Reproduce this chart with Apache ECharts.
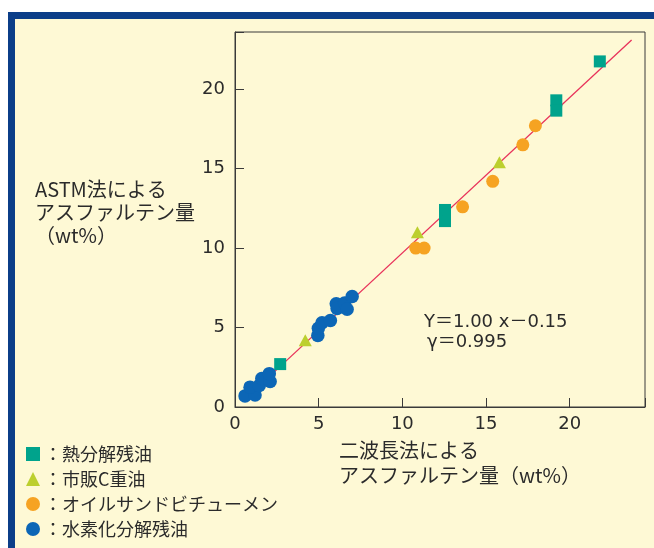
<!DOCTYPE html>
<html>
<head>
<meta charset="utf-8">
<script src="https://cdn.jsdelivr.net/npm/echarts@6/dist/echarts.min.js"></script>
<style>
html,body{margin:0;padding:0;background:#fff;}
#c{width:654px;height:548px;}
</style>
</head>
<body>
<div id="c"></div>
<script>
// ---- data ----
const seriesNames = ['熱分解残油', '市販C重油', 'オイルサンドビチューメン', '水素化分解残油'];
const pyrolysis = [[2.7, 2.7], [12.55, 12.4], [12.55, 11.7], [19.2, 19.3], [19.2, 18.65], [21.8, 21.75]];
const fuelC = [[4.2, 4.2], [10.9, 11.0], [15.8, 15.4]];
const bitumen = [[10.8, 10.0], [11.3, 10.0], [13.6, 12.6], [15.4, 14.2], [17.2, 16.5], [17.95, 17.7]];
const hydrocracked = [[0.6, 0.7], [1.2, 0.75], [0.9, 1.25], [1.45, 1.35], [1.6, 1.8], [2.1, 1.6], [2.05, 2.1],
  [4.95, 4.5], [4.98, 4.95], [5.2, 5.3], [5.7, 5.45], [6.05, 6.5], [6.1, 6.2], [6.55, 6.55], [6.7, 6.15], [7.0, 6.95]];
const fitLine = [[0.5, 0.4], [23.7, 23.1]];
const xTicks = [0, 5, 10, 15, 20];
const yTicks = [0, 5, 10, 15, 20];
const equationText = 'Y＝1.00 x－0.15';
const corrText = 'γ＝0.995';

const colors = ['#00A38C', '#BCCF2E', '#F6A322', '#0C66B6'];
const icons = ['rect', 'triangle', 'circle', 'circle'];
const txt = '#2b2b2b';
const numFont = "'DejaVu Sans', 'Noto Sans CJK JP', sans-serif";
const jpFont = "'Noto Sans CJK JP', 'Noto Sans', sans-serif";

const chart = echarts.init(document.getElementById('c'), null, {renderer: 'canvas'});
const datasets = [pyrolysis, fuelC, bitumen, hydrocracked];
const sizes = [[12, 12], [13, 12], 13, 13.5];

const option = {
  backgroundColor: '#ffffff',
  animation: false,
  graphic: [
    {type: 'rect', z: -10, silent: true, shape: {x: 8, y: 12, width: 700, height: 600}, style: {fill: '#0B3E88'}},
    {type: 'rect', z: -9, silent: true, shape: {x: 15, y: 19, width: 700, height: 600}, style: {fill: '#FEF9D5'}},
    {type: 'text', left: 35, top: 178, z: 5, style: {text: 'ASTM法による\nアスファルテン量\n（wt%）', fill: txt, font: "20px " + jpFont, lineHeight: 23}},
    {type: 'text', left: 339, top: 438, z: 5, style: {text: '二波長法による\nアスファルテン量（wt%）', fill: txt, font: "20px " + jpFont, lineHeight: 25}},
    {type: 'text', left: 424, top: 313, z: 5, style: {text: equationText, fill: txt, font: "18px " + numFont}},
    {type: 'text', left: 427, top: 333, z: 5, style: {text: corrText, fill: txt, font: "18px " + numFont}}
  ],
  grid: {left: 235, top: 32, right: 9, bottom: 141, show: true, borderColor: '#3a3a3a', borderWidth: 1, backgroundColor: 'transparent'},
  xAxis: {
    type: 'value', min: 0, max: 24.5, interval: 5,
    axisLine: {show: true, lineStyle: {color: '#3a3a3a', width: 1}},
    axisTick: {show: true, inside: true, length: 9, lineStyle: {color: '#3a3a3a'}},
    splitLine: {show: false},
    axisLabel: {color: txt, fontSize: 18, fontFamily: numFont, margin: 8,
      formatter: v => xTicks.indexOf(v) >= 0 ? String(v) : ''}
  },
  yAxis: {
    type: 'value', min: 0, max: 23.6, interval: 5,
    axisLine: {show: true, lineStyle: {color: '#3a3a3a', width: 1}},
    axisTick: {show: true, inside: true, length: 9, lineStyle: {color: '#3a3a3a'}},
    splitLine: {show: false},
    axisLabel: {color: txt, fontSize: 18, fontFamily: numFont, margin: 10,
      formatter: v => yTicks.indexOf(v) >= 0 ? String(v) : ''}
  },
  legend: {
    orient: 'vertical', left: 26, top: 445, width: 400, height: 120, padding: 0, itemGap: 7, itemWidth: 14, itemHeight: 14,
    selectedMode: false,
    data: seriesNames.map((n, i) => ({name: n, icon: icons[i]})),
    formatter: n => '：' + n,
    textStyle: {color: txt, fontSize: 18, fontFamily: jpFont, padding: [0, 0, 0, -1]}
  },
  series: [
    {type: 'line', name: 'fit', data: fitLine, symbol: 'none', z: 1, silent: true,
      lineStyle: {color: '#E8325A', width: 1.3}},
  ].concat(datasets.map((d, i) => ({
    type: 'scatter', name: seriesNames[i], data: d, symbol: icons[i], symbolSize: sizes[i], z: 3,
    itemStyle: {color: colors[i], opacity: 1}
  })))
};
chart.setOption(option);
</script>
</body>
</html>
